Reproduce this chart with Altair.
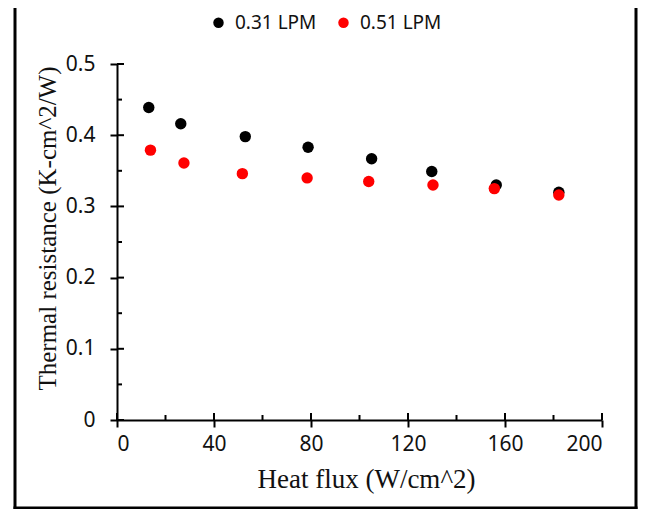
import altair as alt
import pandas as pd

# ---- data ----
flux_031 = [13.1, 26.3, 52.9, 78.8, 105.0, 129.8, 156.4, 182.2]
res_031 = [0.439, 0.416, 0.398, 0.383, 0.367, 0.349, 0.330, 0.320]
flux_051 = [13.8, 27.6, 51.7, 78.4, 103.8, 130.3, 155.6, 182.2]
res_051 = [0.379, 0.361, 0.346, 0.340, 0.335, 0.330, 0.325, 0.316]
series_names = ["0.31 LPM", "0.51 LPM"]
series_colors = ["#000000", "#ff0000"]
x_major = [0, 40, 80, 120, 160, 200]
x_minor = [20, 60, 100, 140, 180]
y_major = [0, 0.1, 0.2, 0.3, 0.4, 0.5]
y_minor = [0.05, 0.15, 0.25, 0.35, 0.45]

W, H = 485, 356
SANS = "Noto Sans"
SERIF = "Liberation Serif"

df = pd.DataFrame({
    "flux": flux_031 + flux_051,
    "res": res_031 + res_051,
    "series": [series_names[0]] * len(flux_031) + [series_names[1]] * len(flux_051),
})

xscale = alt.Scale(domain=[0, 200], nice=False, zero=False)
yscale = alt.Scale(domain=[0, 0.5], nice=False, zero=False)

xaxis = alt.Axis(
    values=x_major, format="d", grid=False,
    tickSize=7, tickWidth=2, tickColor="black",
    domainWidth=2, domainColor="black",
    labelFont=SANS, labelFontSize=21, labelColor="#111111", labelPadding=6,
    title="Heat flux (W/cm^2)", titleFont=SERIF, titleFontSize=27,
    titleFontWeight="normal", titleColor="#111111",
    titleX=249, titleY=67, titleBaseline="alphabetic", titleAlign="center",
)
yaxis = alt.Axis(
    values=y_major, grid=False,
    labelExpr="datum.value == 0 ? '0' : format(datum.value, '.1f')",
    tickSize=7, tickWidth=2, tickColor="black",
    domainWidth=2, domainColor="black",
    labelFont=SANS, labelFontSize=21, labelColor="#111111", labelPadding=15,
    title="Thermal resistance (K-cm^2/W)", titleFont=SERIF, titleFontSize=25,
    titleFontWeight="normal", titleColor="#111111",
    titleAngle=-90, titleX=-62, titleY=164, titleBaseline="alphabetic", titleAlign="center",
)


def X(field="flux"):
    return alt.X(f"{field}:Q", scale=xscale, axis=xaxis)


def Y(field="res"):
    return alt.Y(f"{field}:Q", scale=yscale, axis=yaxis)


points = alt.Chart(df).mark_circle(size=130, opacity=1).encode(
    x=X(), y=Y(),
    color=alt.Color(
        "series:N",
        scale=alt.Scale(domain=series_names, range=series_colors),
        legend=alt.Legend(
            orient="none", direction="horizontal", legendX=92, legendY=-51,
            title=None, symbolType="circle", symbolSize=110, symbolStrokeWidth=0,
            labelFont=SANS, labelFontSize=19, labelColor="#111111",
            labelOffset=7, columnPadding=17, padding=0,
        ),
    ),
)

# inner halves of the major ticks and inner minor ticks
xmaj_in = alt.Chart(pd.DataFrame({"flux": x_major})).mark_rule(color="black", strokeWidth=2).encode(
    x=X(), y=alt.value(H), y2=alt.value(H - 7))
xmin_in = alt.Chart(pd.DataFrame({"flux": x_minor})).mark_rule(color="black", strokeWidth=2).encode(
    x=X(), y=alt.value(H), y2=alt.value(H - 5))
ymaj_in = alt.Chart(pd.DataFrame({"res": y_major})).mark_rule(color="black", strokeWidth=2).encode(
    y=Y(), x=alt.value(0), x2=alt.value(7))
ymin_in = alt.Chart(pd.DataFrame({"res": y_minor})).mark_rule(color="black", strokeWidth=2).encode(
    y=Y(), x=alt.value(0), x2=alt.value(5))

# outer picture frame (left, right, bottom)
one = alt.Data(values=[{"k": 1}])
frame_l = alt.Chart(one).mark_rule(color="black", strokeWidth=3).encode(
    x=alt.value(-102), y=alt.value(-56), y2=alt.value(446))
frame_r = alt.Chart(one).mark_rule(color="black", strokeWidth=3).encode(
    x=alt.value(519), y=alt.value(-56), y2=alt.value(446))
frame_b = alt.Chart(one).mark_rule(color="black", strokeWidth=3).encode(
    x=alt.value(-103.5), x2=alt.value(520.5), y=alt.value(444))

chart = alt.layer(
    frame_l, frame_r, frame_b, xmaj_in, xmin_in, ymaj_in, ymin_in, points
).properties(
    width=W, height=H,
    autosize=alt.AutoSizeParams(type="none"),
    padding={"left": 109, "top": 56, "right": 42, "bottom": 89},
    background="white",
).configure_view(stroke=None)

chart.save("out.html", embed_options={"renderer": "svg", "actions": False})
